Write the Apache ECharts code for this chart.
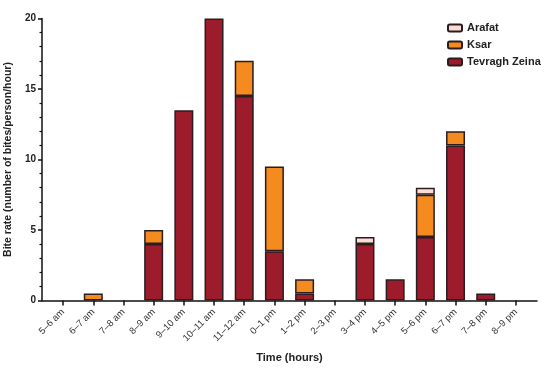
<!DOCTYPE html>
<html><head><meta charset="utf-8">
<script src="https://cdn.jsdelivr.net/npm/echarts@6/dist/echarts.min.js"></script>
<style>html,body{margin:0;padding:0;background:#fff}#c{width:550px;height:374px}</style>
</head><body><div id="c"></div>
<script>
const categories = ['5–6 am','6–7 am','7–8 am','8–9 am','9–10 am','10–11 am','11–12 am','0–1 pm','1–2 pm','2–3 pm','3–4 pm','4–5 pm','5–6 pm','6–7 pm','7–8 pm','8–9 pm'];
const tevraghZeina = [0, 0, 0, 4, 13.5, 20, 14.5, 3.5, 0.5, 0, 4, 1.5, 4.5, 11, 0.5, 0];
const ksar         = [0, 0.5, 0, 1, 0, 0, 2.5, 6, 1, 0, 0, 0, 3, 1, 0, 0];
const arafat       = [0, 0, 0, 0, 0, 0, 0, 0, 0, 0, 0.5, 0, 0.5, 0, 0, 0];
const yTicks = [0, 5, 10, 15, 20];

function toData(arr) { return arr.map(v => (v === 0 ? '-' : v)); }
const border = { borderColor: '#2b1d1f', borderWidth: 1.5 };
const font = 'Liberation Sans, Arial, sans-serif';
const axisCol = '#111';

const chart = echarts.init(document.getElementById('c'));
chart.setOption({
  animation: false,
  textStyle: { fontFamily: font },
  grid: [
    { left: 48, right: 19, top: 18.5, bottom: 73.5, outerBoundsMode: 'none', containLabel: false },
    { left: 42, right: 13, top: 18.5, bottom: 73.5, outerBoundsMode: 'none', containLabel: false }
  ],
  legend: {
    orient: 'vertical', left: 442, top: 17.5, itemWidth: 14, itemHeight: 7, itemGap: 6,
    data: ['Arafat', 'Ksar', 'Tevragh Zeina'],
    textStyle: { fontFamily: font, fontWeight: 'bold', fontSize: 11, color: '#222' }
  },
  xAxis: [{
    type: 'category', data: categories, gridIndex: 0,
    name: 'Time (hours)', nameLocation: 'middle', nameGap: 52,
    nameTextStyle: { fontFamily: font, fontWeight: 'bold', fontSize: 11, color: '#222' },
    axisLine: { show: false },
    axisTick: { show: true, alignWithLabel: true, length: 5, lineStyle: { color: axisCol, width: 1.5 } },
    axisLabel: { rotate: 45, margin: 10, fontSize: 9.5, color: '#333', fontFamily: font, interval: 0 },
    splitLine: { show: false }
  }, {
    type: 'value', gridIndex: 1, min: 0, max: 1,
    axisLine: { show: true, lineStyle: { color: axisCol, width: 1.5 } },
    axisTick: { show: false }, axisLabel: { show: false }, splitLine: { show: false }
  }],
  yAxis: [{
    type: 'value', gridIndex: 0, offset: 6, min: yTicks[0], max: yTicks[yTicks.length - 1], interval: 5,
    name: 'Bite rate (number of bites/person/hour)', nameLocation: 'middle', nameGap: 25,
    nameTextStyle: { fontFamily: font, fontWeight: 'bold', fontSize: 10.5, color: '#222' },
    axisLine: { show: true, lineStyle: { color: axisCol, width: 1.5 } },
    axisTick: { show: true, length: 4, lineStyle: { color: axisCol, width: 1.5 } },
    minorTick: { show: true, splitNumber: 5, length: 2.5, lineStyle: { color: axisCol, width: 1.2 } },
    axisLabel: { fontSize: 10, fontWeight: 'bold', color: '#222', margin: 6, fontFamily: font },
    splitLine: { show: false }
  }, {
    type: 'value', gridIndex: 1, show: false, min: 0, max: 1
  }],
  series: [
    { name: 'Tevragh Zeina', type: 'bar', stack: 's', barWidth: 19, data: toData(tevraghZeina),
      itemStyle: Object.assign({ color: '#9c1c2b' }, border) },
    { name: 'Ksar', type: 'bar', stack: 's', barWidth: 19, data: toData(ksar),
      itemStyle: Object.assign({ color: '#f58a1f' }, border) },
    { name: 'Arafat', type: 'bar', stack: 's', barWidth: 19, data: toData(arafat),
      itemStyle: Object.assign({ color: '#f9dcd4' }, border) }
  ]
});
</script></body></html>
